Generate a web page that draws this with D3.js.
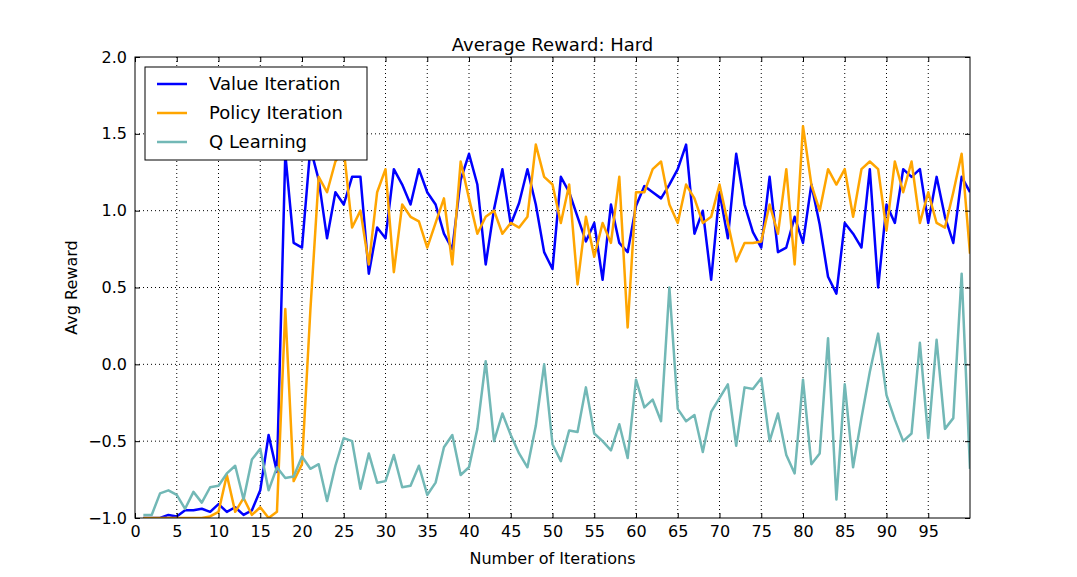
<!DOCTYPE html>
<html>
<head>
<meta charset="utf-8">
<script src="https://cdn.jsdelivr.net/npm/d3@7"></script>
<style>
body { margin: 0; background: #fff; }
text { font-family: "DejaVu Sans", sans-serif; }
</style>
</head>
<body>
<svg id="chart" width="1077" height="577"></svg>
<script>
// DATA
var iterations = d3.range(1, 101);
var valueIter = [-1.0,-1.0,-1.0,-0.98,-0.99,-0.95,-0.95,-0.94,-0.96,-0.91,-0.96,-0.93,-0.98,-0.95,-0.82,-0.46,-0.7,1.37,0.79,0.76,
  1.41,1.2,0.82,1.12,1.04,1.22,1.22,0.59,0.89,0.82,1.27,1.17,1.04,1.27,1.12,1.04,0.85,0.75,1.2,1.37,
  1.17,0.65,1.01,1.27,0.91,1.05,1.27,1.04,0.73,0.62,1.22,1.12,0.96,0.8,0.92,0.55,1.04,0.79,0.73,1.03,
  1.16,1.12,1.08,1.17,1.27,1.43,0.85,1.0,0.55,1.12,0.82,1.37,1.04,0.86,0.76,1.22,0.73,0.76,0.96,0.79,
  1.17,0.91,0.57,0.46,0.92,0.85,0.76,1.27,0.5,1.04,0.92,1.27,1.22,1.27,0.92,1.22,0.96,0.79,1.22,1.12];
var policyIter = [-1,-1,-1,-1,-1,-1,-1,-1,-0.99,-0.96,-0.72,-0.96,-0.87,-0.98,-0.93,-1.0,-0.96,0.36,-0.76,-0.65,
  0.35,1.22,1.12,1.32,1.4,0.89,1.0,0.65,1.12,1.27,0.6,1.04,0.96,0.93,0.76,0.92,1.08,0.65,1.32,1.08,
  0.85,0.96,1.0,0.85,0.92,0.89,0.96,1.43,1.22,1.17,0.92,1.17,0.52,0.96,0.7,0.92,0.79,1.22,0.24,1.12,
  1.12,1.27,1.32,1.04,0.92,1.17,1.08,0.92,0.96,1.17,0.92,0.67,0.79,0.79,0.8,1.04,0.85,1.27,0.65,1.55,
  1.17,1.0,1.27,1.17,1.27,0.96,1.27,1.32,1.27,0.87,1.32,1.12,1.32,0.92,1.12,0.92,0.89,1.12,1.37,0.72];
var qLearning = [-0.98,-0.98,-0.84,-0.82,-0.85,-0.94,-0.83,-0.9,-0.8,-0.79,-0.71,-0.66,-0.88,-0.62,-0.55,-0.82,-0.67,-0.74,-0.73,-0.6,
  -0.68,-0.65,-0.89,-0.66,-0.48,-0.5,-0.81,-0.58,-0.77,-0.76,-0.59,-0.8,-0.79,-0.66,-0.85,-0.77,-0.54,-0.46,-0.72,-0.67,
  -0.42,0.02,-0.5,-0.32,-0.46,-0.58,-0.67,-0.4,0.0,-0.52,-0.63,-0.43,-0.44,-0.15,-0.45,-0.5,-0.56,-0.39,-0.61,-0.1,
  -0.28,-0.23,-0.37,0.5,-0.29,-0.37,-0.33,-0.57,-0.31,-0.22,-0.13,-0.53,-0.15,-0.16,-0.09,-0.5,-0.32,-0.59,-0.71,-0.1,
  -0.65,-0.58,0.17,-0.88,-0.13,-0.67,-0.35,-0.05,0.2,-0.2,-0.36,-0.5,-0.45,0.14,-0.48,0.16,-0.42,-0.35,0.59,-0.68];
var seriesNames = ["Value Iteration", "Policy Iteration", "Q Learning"];
var seriesColors = ["#0000ff", "#ffa500", "#72b8b6"];
var xTicks = d3.range(0, 100, 5);
var yTicks = [-1.0, -0.5, 0.0, 0.5, 1.0, 1.5, 2.0];

var mLeft = 135, mRight = 970, mTop = 57, mBottom = 518;
var svg = d3.select("#chart");

var xScale = d3.scaleLinear().domain([0, 100]).range([mLeft, mRight]);
var yScale = d3.scaleLinear().domain([-1, 2]).range([mBottom, mTop]);

// grid
svg.append("g").selectAll("line").data(xTicks.slice(1)).enter().append("line")
  .attr("x1", function(d) { return xScale(d); }).attr("x2", function(d) { return xScale(d); })
  .attr("y1", mTop).attr("y2", mBottom)
  .attr("stroke", "#000").attr("stroke-dasharray", "1,3").attr("stroke-width", 1);
svg.append("g").selectAll("line").data(yTicks.slice(1, -1)).enter().append("line")
  .attr("y1", function(d) { return yScale(d); }).attr("y2", function(d) { return yScale(d); })
  .attr("x1", mLeft).attr("x2", mRight)
  .attr("stroke", "#000").attr("stroke-dasharray", "1,3").attr("stroke-width", 1);

// lines
var allSeries = [valueIter, policyIter, qLearning];
var line = d3.line()
  .x(function(d, i) { return xScale(iterations[i]); })
  .y(function(d) { return yScale(d); });
svg.append("defs").append("clipPath").attr("id", "clip")
  .append("rect").attr("x", mLeft).attr("y", mTop).attr("width", mRight - mLeft).attr("height", mBottom - mTop);
svg.append("g").attr("clip-path", "url(#clip)").selectAll("path").data(allSeries).enter().append("path")
  .attr("d", line)
  .attr("fill", "none")
  .attr("stroke", function(d, i) { return seriesColors[i]; })
  .attr("stroke-width", 2.5)
  .attr("stroke-linejoin", "round");

// axes (ticks inward, mirrored)
var xAxis = d3.axisBottom(xScale).tickValues(xTicks).tickSize(-5).tickPadding(8).tickFormat(d3.format("d"));
var yAxis = d3.axisLeft(yScale).tickValues(yTicks).tickSize(-5).tickPadding(8).tickFormat(d3.format(".1f"));
var gx = svg.append("g").attr("transform", "translate(0," + mBottom + ")").call(xAxis);
var gy = svg.append("g").attr("transform", "translate(" + mLeft + ",0)").call(yAxis);
svg.append("g").attr("transform", "translate(0," + mTop + ")")
  .call(d3.axisTop(xScale).tickValues(xTicks).tickSize(-5).tickFormat(""));
svg.append("g").attr("transform", "translate(" + mRight + ",0)")
  .call(d3.axisRight(yScale).tickValues(yTicks).tickSize(-5).tickFormat(""));
svg.selectAll(".domain").remove();
svg.selectAll(".tick text").attr("font-size", 16).attr("fill", "#000")
  .style("font-family", "DejaVu Sans");
gy.selectAll(".tick text").text(function(d) { return d < 0 ? "\u2212" + Math.abs(d).toFixed(1) : d.toFixed(1); });

svg.append("rect").attr("x", mLeft).attr("y", mTop).attr("width", mRight - mLeft).attr("height", mBottom - mTop)
  .attr("fill", "none").attr("stroke", "#000").attr("stroke-width", 1);

// labels
svg.append("text").attr("x", (mLeft + mRight) / 2).attr("y", 51).attr("text-anchor", "middle")
  .attr("font-size", 18).text("Average Reward: Hard");
svg.append("text").attr("x", (mLeft + mRight) / 2).attr("y", 564).attr("text-anchor", "middle")
  .attr("font-size", 16).text("Number of Iterations");
svg.append("text").attr("transform", "translate(77," + ((mTop + mBottom) / 2) + ") rotate(-90)")
  .attr("text-anchor", "middle").attr("font-size", 16).text("Avg Reward");

// legend
var legend = svg.append("g").attr("transform", "translate(145,67)");
legend.append("rect").attr("width", 222).attr("height", 93).attr("fill", "#fff").attr("stroke", "#000");
var items = legend.selectAll("g.item").data(seriesNames).enter().append("g")
  .attr("transform", function(d, i) { return "translate(0," + (17 + i * 29) + ")"; });
items.append("line").attr("x1", 12).attr("x2", 42).attr("y1", 0).attr("y2", 0)
  .attr("stroke", function(d, i) { return seriesColors[i]; }).attr("stroke-width", 2.5);
items.append("text").attr("x", 64).attr("y", 6).attr("font-size", 18).text(function(d) { return d; });
</script>
</body>
</html>
